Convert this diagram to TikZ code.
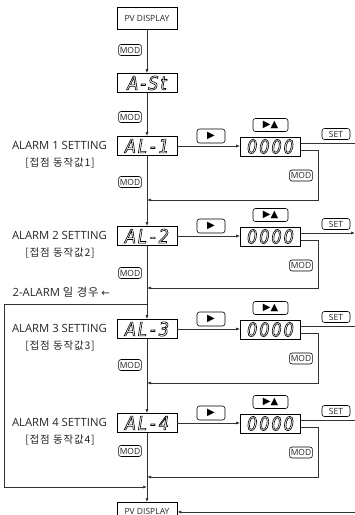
\documentclass[tikz,border=0pt]{standalone}
\usepackage{fontspec}
\usetikzlibrary{arrows.meta,calc}
\setmainfont{Open Sans}
\newfontfamily\cjk{Noto Sans CJK KR}[LetterSpace=8]
\newfontfamily\sym{DejaVu Sans}
\newfontfamily\segf{DejaVu Sans}[FakeStretch=0.85, LetterSpace=10]
\newcommand{\seg}[1]{{\segf\itshape\fontsize{19}{19}\selectfont\special{pdf:literal direct 1 Tr 0.6 w}#1\special{pdf:literal direct 0 Tr}}}
\tikzset{
  ln/.style={draw=black!80, line width=0.7pt},
  arr/.style={ln, -{Latex[length=4pt,width=3pt]}},
  disp/.style={draw=black, line width=0.7pt, minimum width=60pt, minimum height=19pt, inner sep=0pt},
  pvbox/.style={draw=black, line width=0.6pt, minimum width=60pt, minimum height=22pt, inner sep=0pt, font=\fontsize{8.5}{9}\selectfont, text=black!85},
  btn/.style={draw=black, line width=0.6pt, rounded corners=2.5pt, inner sep=1.2pt, minimum height=11pt, font=\fontsize{8.5}{8.5}\selectfont, text=black!85},
  lab/.style={font=\fontsize{11.3}{12}\selectfont, text=black!85, inner sep=0pt},
  klab/.style={font=\cjk\fontsize{10.5}{11}\selectfont, text=black!85, inner sep=0pt},
  sbtn/.style={btn, font=\sym\fontsize{10}{10}\selectfont, text=black}
}
\begin{document}
\begin{tikzpicture}[x=1pt,y=-1pt]
\useasboundingbox (0,0) rectangle (355,515);
\node[pvbox] (pv1) at (147,18) {PV DISPLAY};
\node[btn] (ma) at (130,50) {MOD};
\node[disp] (ast) at (147,83) {\seg{A\kern2pt-\kern2pt St}};
\node[btn] (mb) at (130,117) {MOD};
\foreach \i/\r/\mA/\mg in {1/146/182/200, 2/236/273/288, 3/329/365/383, 4/423/451/477}{
  \node[disp] (al\i) at (147,\r) {\seg{AL\kern3pt-\kern3pt\i}};
  \node[lab, anchor=east] (t\i) at (107,\r-1) {ALARM \i\ SETTING};
  \node[klab] (k\i) at (60,\r+17) {[접점 동작값\i]};
  \node[btn] (m\i) at (130,\mA) {MOD};
  \node[disp] (z\i) at (270.5,\r+0.5) {\seg{0000}};
  \node[sbtn, minimum width=28pt, minimum height=14pt] (p\i) at (211,\r-10) {▶};
  \node[sbtn, minimum width=35pt, minimum height=13pt] (pu\i) at (270.5,\r-21) {▶▲};
  \node[btn, minimum width=28pt] (s\i) at (336,\r-12) {SET};
  \node[btn] (mm\i) at (301,\r+29.5) {MOD};
  \coordinate (g\i) at (147,\mg);
  \coordinate (c\i) at (318,\mg);
  \coordinate (e\i) at (355,\r-3);
  \coordinate (f\i) at (240,\r+4.5);
  \draw[arr] (al\i.east) -- (al\i.east -| z\i.west);
  \draw[arr] (z\i.east |- f\i) -| (c\i) -- (g\i);
}
\draw[ln] (z1.east |- e1) -- (e1);
\draw[arr] (z2.east |- e2) -- (e2);
\draw[ln] (z3.east |- e3) -- (e3);
\draw[ln] (z4.east |- e4) -- (e4);
\node[pvbox, anchor=north, minimum height=19pt] (pv2) at (147,502) {PV DISPLAY};
\node[lab, anchor=east] (note) at (110,292) {2-ALARM {\cjk 일 경우} {\sym\fontsize{10}{10}\selectfont ←}};
\draw[arr] (pv1) -- (ast);
\draw[arr] (ast) -- (al1);
\draw[arr] (al1) -- (al2);
\draw[arr] (al2) -- (al3);
\draw[arr] (al3) -- (al4);
\draw[arr] (al4) -- (pv2);
\coordinate (b1) at (147,304);
\coordinate (b2) at (4,304);
\coordinate (b3) at (4,487);
\coordinate (b4) at (147,487);
\draw[arr] (b1) -- (b2) -- (b3) -- (b4);
\coordinate (e5) at (355,512);
\draw[arr] (e5) -- (e5 -| pv2.east);
\end{tikzpicture}
\end{document}
